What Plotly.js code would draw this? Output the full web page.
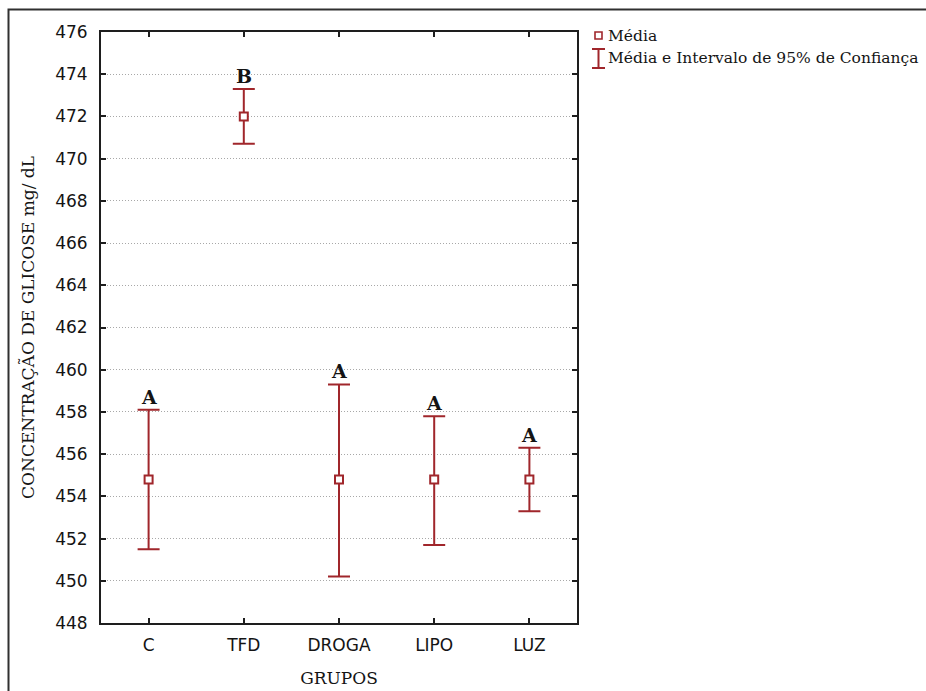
<!DOCTYPE html>
<html>
<head>
<meta charset="utf-8">
<script src="https://cdn.plot.ly/plotly-3.0.1.min.js"></script>
<style>
  html, body { margin: 0; padding: 0; background: #ffffff; }
  #chart { width: 926px; height: 691px; }
</style>
</head>
<body>
<div id="chart"></div>
<script>
// Glucose concentration per group: mean with 95% confidence interval
const groups = ['C', 'TFD', 'DROGA', 'LIPO', 'LUZ'];
const means  = [454.8, 472.0, 454.8, 454.8, 454.8];
const upper  = [458.1, 473.3, 459.3, 457.8, 456.3];
const lower  = [451.5, 470.7, 450.2, 451.7, 453.3];
const letters = ['A', 'B', 'A', 'A', 'A'];

const yTicks = [448, 450, 452, 454, 456, 458, 460, 462, 464, 466, 468, 470, 472, 474, 476];

const RED = '#a0262b';
const INK = '#141414';
const SERIF = 'DejaVu Serif, Liberation Serif, serif';
const SANS = 'DejaVu Sans, Verdana, sans-serif';

// plot area in pixels, used to place the hand-drawn legend and the outer frame
const L = 101, R = 577, T = 32, B = 623;
const W = 926, H = 691;
const px = x => (x - L) / (R - L);
const py = y => (B - y) / (B - T);

const errPlus  = upper.map((u, i) => +(u - means[i]).toFixed(3));
const errMinus = lower.map((l, i) => +(means[i] - l).toFixed(3));

const trace = {
  type: 'scatter',
  mode: 'markers',
  x: groups,
  y: means,
  name: 'Média',
  showlegend: false,
  marker: {
    symbol: 'square',
    size: 8,
    color: '#ffffff',
    line: { color: RED, width: 2 }
  },
  error_y: {
    type: 'data',
    symmetric: false,
    array: errPlus,
    arrayminus: errMinus,
    color: RED,
    thickness: 2,
    width: 11
  },
  hoverinfo: 'x+y'
};

const letterNotes = groups.map((g, i) => ({
  x: g, y: upper[i], xref: 'x', yref: 'y',
  text: '<b>' + letters[i] + '</b>',
  showarrow: false, yanchor: 'bottom', yshift: 0,
  font: { family: SERIF, size: 19, color: INK }
}));

const legendNotes = [
  { text: 'Média', y: 36 },
  { text: 'Média e Intervalo de 95% de Confiança', y: 58 }
].map(d => ({
  x: px(606), y: py(d.y), xref: 'paper', yref: 'paper',
  text: d.text, showarrow: false, xanchor: 'left', yanchor: 'middle',
  font: { family: SERIF, size: 15.5, color: INK }
}));

const shapes = [
  // outer frame around the whole figure
  { type: 'rect', xref: 'paper', yref: 'paper',
    x0: px(8.5), x1: px(W + 20), y0: py(H + 20), y1: py(9.5),
    line: { color: '#303030', width: 2 }, fillcolor: 'rgba(0,0,0,0)' },
  // legend: open square marker
  { type: 'rect', xref: 'paper', yref: 'paper',
    x0: px(595), x1: px(602), y0: py(39), y1: py(32),
    line: { color: RED, width: 1.6 }, fillcolor: '#ffffff' },
  // legend: whisker glyph
  { type: 'line', xref: 'paper', yref: 'paper',
    x0: px(598.5), x1: px(598.5), y0: py(68), y1: py(49),
    line: { color: RED, width: 2 } },
  { type: 'line', xref: 'paper', yref: 'paper',
    x0: px(592), x1: px(605), y0: py(49), y1: py(49),
    line: { color: RED, width: 2 } },
  { type: 'line', xref: 'paper', yref: 'paper',
    x0: px(592), x1: px(605), y0: py(68), y1: py(68),
    line: { color: RED, width: 2 } }
];

const layout = {
  width: W,
  height: H,
  margin: { l: L, r: W - R, t: T, b: H - B, pad: 0 },
  paper_bgcolor: '#ffffff',
  plot_bgcolor: '#ffffff',
  showlegend: false,
  xaxis: {
    type: 'category',
    range: [-0.5, 4.5],
    showline: true, mirror: 'ticks', linecolor: '#1e1e1e', linewidth: 2,
    ticks: 'inside', ticklen: 5, tickwidth: 2, tickcolor: '#1e1e1e',
    showgrid: false, zeroline: false,
    tickfont: { family: SANS, size: 17, color: INK },
    ticklabelstandoff: 6,
    title: { text: 'GRUPOS', standoff: 18,
             font: { family: SERIF, size: 17, color: INK } },
    automargin: false
  },
  yaxis: {
    range: [448, 476],
    tickmode: 'array', tickvals: yTicks, ticktext: yTicks.map(String),
    showline: true, mirror: 'ticks', linecolor: '#1e1e1e', linewidth: 2,
    ticks: 'inside', ticklen: 5, tickwidth: 2, tickcolor: '#1e1e1e',
    showgrid: true, gridcolor: '#a8a8a8', gridwidth: 1, griddash: '1px,2px',
    zeroline: false,
    tickfont: { family: SANS, size: 17, color: INK },
    ticklabelstandoff: 8,
    title: { text: 'CONCENTRAÇÃO DE GLICOSE mg/ dL', standoff: 16,
             font: { family: SERIF, size: 17, color: INK } },
    automargin: false
  },
  annotations: letterNotes.concat(legendNotes),
  shapes: shapes
};

Plotly.newPlot('chart', [trace], layout, { displayModeBar: false, staticPlot: true });
</script>
</body>
</html>
